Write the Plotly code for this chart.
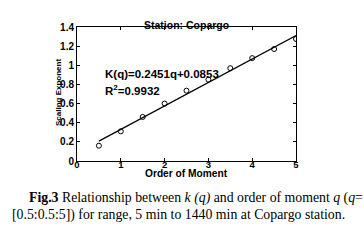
import plotly.graph_objects as go

q = [0.5, 1.0, 1.5, 2.0, 2.5, 3.0, 3.5, 4.0, 4.5, 5.0]
k_q = [0.16, 0.31, 0.46, 0.60, 0.735, 0.85, 0.97, 1.075, 1.17, 1.275]
slope = 0.2451
intercept = 0.0853
fit_q = [0.5, 5.0]
fit_k = [slope * v + intercept for v in fit_q]
x_ticks = [0, 1, 2, 3, 4, 5]
y_ticks = [0, 0.2, 0.4, 0.6, 0.8, 1.0, 1.2, 1.4]
y_tick_text = ["0", "0.2", "0.4", "0.6", "0.8", "1", "1.2", "1.4"]

W, H = 364, 244
L, R, T, B = 77, 68, 27, 83
ph = H - T - B


def py(pix):
    return (H - B - pix) / ph


def px(pix):
    return (pix - L) / (W - L - R)


sans = "Liberation Sans, Arial, sans-serif"
serif = "Liberation Serif, Times New Roman, serif"

fig = go.Figure()
fig.add_trace(go.Scatter(x=fit_q, y=fit_k, mode="lines",
                         line=dict(color="black", width=1.2), showlegend=False))
fig.add_trace(go.Scatter(x=q, y=k_q, mode="markers",
                         marker=dict(symbol="circle-open", size=5, color="black",
                                     line=dict(width=1)), showlegend=False))

axis_common = dict(showline=True, linecolor="black", linewidth=1, mirror="allticks",
                   ticks="inside", ticklen=3, tickcolor="black", showgrid=False,
                   zeroline=False)
fig.update_xaxes(range=[0, 5], tickvals=x_ticks, ticklabelstandoff=-5,
                 tickfont=dict(family=sans, size=9.5, color="black", weight="bold"),
                 **axis_common)
fig.update_yaxes(range=[0, 1.4], tickvals=y_ticks, ticktext=y_tick_text,
                 tickfont=dict(family=sans, size=10, color="black", weight="bold"),
                 **axis_common)

ann = []
ann.append(dict(text="<b>Station: Copargo</b>", x=0.5, y=py(17), xref="paper", yref="paper",
                showarrow=False, font=dict(family=sans, size=10.5, color="black")))
ann.append(dict(text="<b>Order of Moment</b>", x=0.5, y=py(181), xref="paper", yref="paper",
                showarrow=False, font=dict(family=sans, size=10.2, color="black")))
ann.append(dict(text="<b>Scaling Exponent</b>", x=px(52), y=py(92.5), xref="paper",
                yref="paper", showarrow=False, textangle=-90,
                font=dict(family=sans, size=8, color="black")))
ann.append(dict(text="<b>K(q)=0.2451q+0.0853</b>", x=px(103), y=py(65.5), xref="paper",
                yref="paper", xanchor="left", showarrow=False,
                font=dict(family=sans, size=11.5, color="black")))
ann.append(dict(text="<b>R<sup>2</sup>=0.9932</b>", x=px(103), y=py(89.5), xref="paper",
                yref="paper", xanchor="left", showarrow=False,
                font=dict(family=sans, size=11.5, color="black")))
ann.append(dict(text="<b>Fig.3</b> Relationship between <i>k (q)</i> and order of moment <i>q</i> (<i>q</i>=",
                x=px(27), y=py(208), xref="paper", yref="paper", xanchor="left",
                showarrow=False, font=dict(family=serif, size=13.8, color="black")))
ann.append(dict(text="[0.5:0.5:5]) for range, 5 min to 1440 min at Copargo station.",
                x=px(10), y=py(225), xref="paper", yref="paper", xanchor="left",
                showarrow=False, font=dict(family=serif, size=13.8, color="black")))

fig.update_layout(width=W, height=H, margin=dict(l=L, r=R, t=T, b=B),
                  paper_bgcolor="white", plot_bgcolor="white", annotations=ann)
fig.write_html("out.html", config={"displayModeBar": False},
               post_script="document.body.style.margin='0px';")
